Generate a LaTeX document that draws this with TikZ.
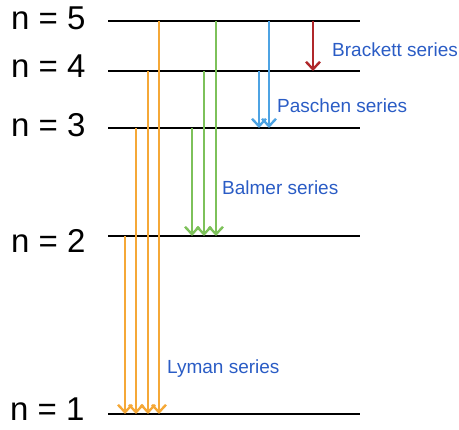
\documentclass[tikz,border=0pt]{standalone}
\usepackage{fontspec}
\setmainfont{Liberation Sans}
\usetikzlibrary{arrows.meta}

\definecolor{lymanc}{RGB}{245,168,55}
\definecolor{balmerc}{RGB}{125,193,90}
\definecolor{paschenc}{RGB}{78,163,227}
\definecolor{brackettc}{RGB}{176,40,43}
\definecolor{labelc}{RGB}{42,92,197}

\tikzset{
  level/.style={line width=2.6pt, black},
  levellabel/.style={anchor=base west, inner sep=0pt, font=\fontsize{33}{33}\selectfont},
  serieslabel/.style={anchor=base west, inner sep=0pt, text=labelc, font=\fontsize{19}{19}\selectfont},
  transition/.style={line width=2.4pt, -{Straight Barb[length=7.5pt,width=14pt]}, shorten >=0pt},
  lyman/.style={transition, lymanc},
  balmer/.style={transition, balmerc},
  paschen/.style={transition, paschenc},
  brackett/.style={transition, brackettc},
}

\begin{document}
\begin{tikzpicture}[x=1pt, y=-1pt]
  \useasboundingbox (0,0) rectangle (459,430);

  % energy levels: left end of each line
  \coordinate (L5) at (108,21);
  \coordinate (L4) at (108,71);
  \coordinate (L3) at (108,128);
  \coordinate (L2) at (108,236);
  \coordinate (L1) at (108,414);
  \foreach \n in {1,...,5} {
    \coordinate (R\n) at ([xshift=252pt]L\n);
    \draw[level] (L\n) -- (R\n);
  }

  % quantum number labels
  \node[levellabel] (n5) at (11,30)  {n = 5};
  \node[levellabel] (n4) at (11,78)  {n = 4};
  \node[levellabel] (n3) at (11,137) {n = 3};
  \node[levellabel] (n2) at (11,253) {n = 2};
  \node[levellabel] (n1) at (10,421) {n = 1};

  % transitions: x position / upper level / lower level
  \foreach \x/\u in {125/2, 136/3, 148/4, 159/5}
    \draw[lyman] (\x,0 |- L\u) -- (\x,0 |- L1);
  \foreach \x/\u in {192/3, 204/4, 216/5}
    \draw[balmer] (\x,0 |- L\u) -- (\x,0 |- L2);
  \foreach \x/\u in {259/4, 269/5}
    \draw[paschen] (\x,0 |- L\u) -- (\x,0 |- L3);
  \draw[brackett] (313,0 |- L5) -- (313,0 |- L4);

  % series names
  \node[serieslabel] (brackett) at (332,57)  {Brackett series};
  \node[serieslabel] (paschen)  at (277,113) {Paschen series};
  \node[serieslabel] (balmer)   at (222,195) {Balmer series};
  \node[serieslabel] (lyman)    at (167,374) {Lyman series};
\end{tikzpicture}
\end{document}
